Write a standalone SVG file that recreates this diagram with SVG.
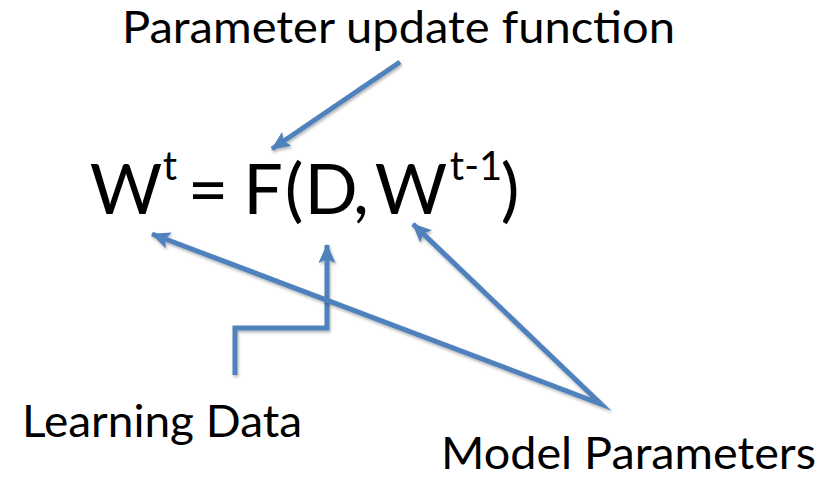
<svg xmlns="http://www.w3.org/2000/svg" width="837" height="477" viewBox="0 0 837 477">
  <style>
    .label { font-family: Lato, "Liberation Sans", sans-serif; font-size: 44px; fill: #000; }
    .eq { font-family: Lato, "Liberation Sans", sans-serif; font-size: 70px; fill: #000; text-anchor: middle; }
    .sup { font-size: 40px; }
    .conn { fill: none; stroke: #4F81BD; stroke-width: 5; stroke-linejoin: miter; stroke-miterlimit: 20; filter: url(#shadow); }
  </style>
  <defs>
    <marker id="head" viewBox="0 0 20 18" refX="19" refY="9" markerWidth="3.8" markerHeight="3.4" orient="auto-start-reverse" markerUnits="strokeWidth">
      <path d="M0,0 L20,9 L0,18 L4,9 Z" fill="#4F81BD"/>
    </marker>
    <filter id="shadow" x="-10%" y="-10%" width="130%" height="130%">
      <feDropShadow dx="1" dy="2" stdDeviation="1.5" flood-color="#000" flood-opacity="0.3"/>
    </filter>
  </defs>
  <rect width="837" height="477" fill="#fff"/>

  <!-- update rule W^t = F(D, W^(t-1)); each piece is its own centred chunk -->
  <g id="equation">
    <text class="eq"><tspan x="126" y="214">W</tspan><tspan class="sup" x="170" y="180">t</tspan><tspan x="208" y="214">=</tspan><tspan x="263" y="214">F</tspan><tspan x="294" y="214">(</tspan><tspan x="331" y="214">D</tspan><tspan x="361" y="214">,</tspan><tspan x="411" y="214">W</tspan><tspan class="sup" x="476" y="180">t-1</tspan><tspan x="510" y="214">)</tspan></text>
  </g>

  <g id="update-function">
    <text class="label" x="122" y="43" textLength="553" lengthAdjust="spacingAndGlyphs">Parameter update function</text>
  </g>
  <g id="learning-data">
    <text class="label" x="22" y="437" textLength="280" lengthAdjust="spacingAndGlyphs">Learning Data</text>
  </g>
  <g id="model-parameters">
    <text class="label" x="441" y="469" textLength="375" lengthAdjust="spacingAndGlyphs">Model Parameters</text>
  </g>

  <g id="connectors">
    <path class="conn" d="M400,62 L272,149" marker-end="url(#head)"/>
    <path class="conn" d="M235,375 L235,328 L327,328 L327,245" marker-end="url(#head)"/>
    <path class="conn" d="M152,234 L601,404 L413,224" marker-start="url(#head)" marker-end="url(#head)"/>
  </g>
</svg>
